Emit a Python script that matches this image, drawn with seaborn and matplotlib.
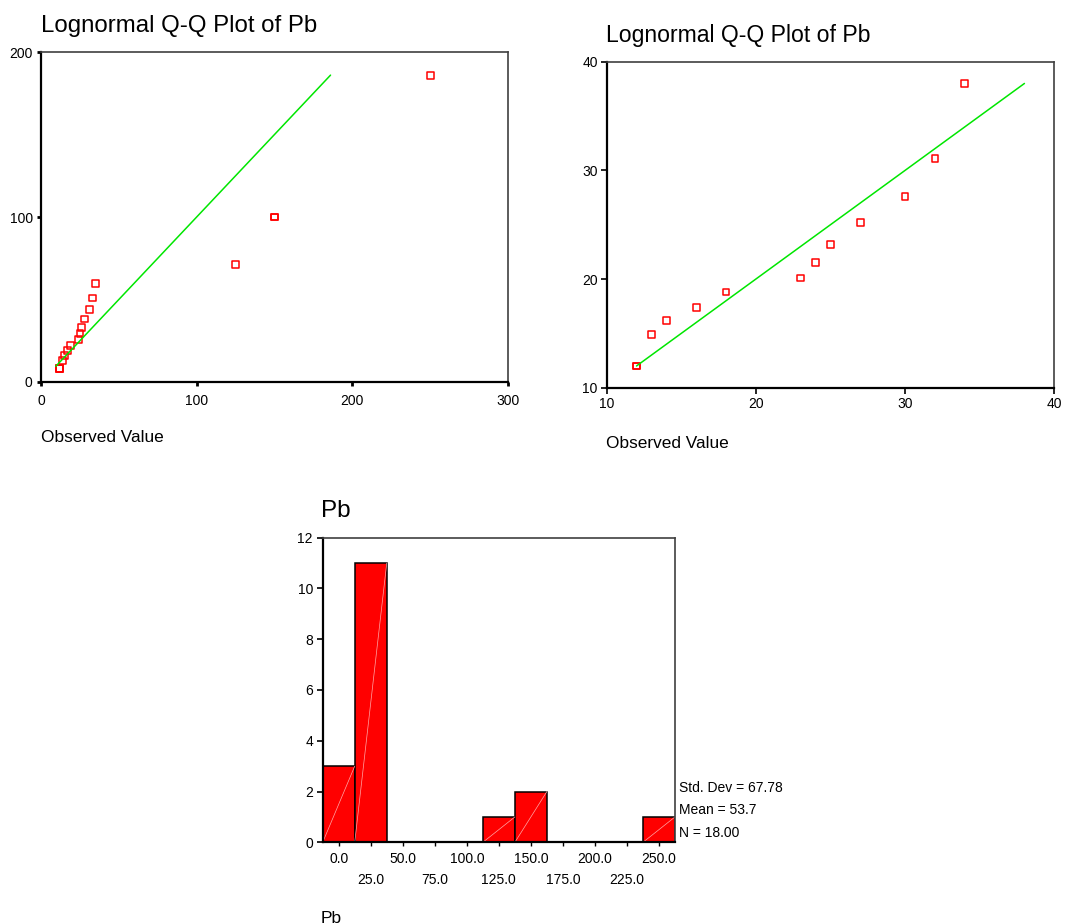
import numpy as np
import matplotlib
matplotlib.use("Agg")
import matplotlib.pyplot as plt
import seaborn as sns

# Pb values, all 18 samples (left Q-Q plot and histogram)
pb = [12, 12, 12, 14, 15, 17, 19, 24, 25, 26, 28, 31, 33, 35, 125, 150, 150, 250]
pb_expected = [8.1, 8.1, 8.1, 13.2, 16.2, 19.0, 22.0, 25.9, 29.5, 33.2, 38.2,
               44.1, 50.9, 59.6, 71.3, 100, 100, 186]
left_line = [9.5, 186]

# Pb values without the high samples (right Q-Q plot)
pb_low = [12, 12, 13, 14, 16, 18, 23, 24, 25, 27, 30, 32, 34]
pb_low_expected = [12.0, 12.0, 14.9, 16.2, 17.4, 18.8, 20.1, 21.5, 23.2, 25.2,
                   27.6, 31.1, 38.0]
right_line = [12, 38]

hist_bins = np.arange(-12.5, 275, 25)
hist_ticks = np.arange(0, 275, 25)
stats_lines = ["Std. Dev = 67.78", "Mean = 53.7", "N = 18.00"]

TITLE = "Lognormal Q-Q Plot of Pb"

sns.set_style("white")
plt.rcParams["font.family"] = ["Liberation Sans", "DejaVu Sans"]
plt.rcParams["text.color"] = "black"
plt.rcParams["axes.labelcolor"] = "black"
plt.rcParams["xtick.color"] = "black"
plt.rcParams["ytick.color"] = "black"

RED = "#ff0000"
GREEN = "#00e600"


def frame(ax):
    for s in ["top", "right"]:
        ax.spines[s].set_color("#404040")
        ax.spines[s].set_linewidth(1.2)
    for s in ["left", "bottom"]:
        ax.spines[s].set_color("black")
        ax.spines[s].set_linewidth(1.6)
    ax.tick_params(direction="out", length=4, width=1.2, colors="black",
                   labelsize=10, pad=4, left=True, bottom=True)


fig = plt.figure(figsize=(10.88, 9.24), dpi=100)

# === Left Q-Q plot ===
ax1 = fig.add_axes([0.0377, 0.5866, 0.4292, 0.3571])
sns.lineplot(x=left_line, y=left_line, ax=ax1, color=GREEN, lw=1.1)
sns.scatterplot(x=pb, y=pb_expected, ax=ax1, marker="s", s=24,
                facecolor="none", edgecolor=RED, linewidth=1.1)
ax1.set_xlim(0, 300)
ax1.set_ylim(0, 200)
ax1.set_xticks([0, 100, 200, 300])
ax1.set_yticks([0, 100, 200])
frame(ax1)
ax1.tick_params(length=3, width=2)
ax1.tick_params(axis="x", pad=6)
ax1.tick_params(axis="y", pad=3)
ax1.set_xlabel("")
ax1.set_ylabel("")
fig.text(41 / 1088, 1 - 32 / 924, TITLE, fontsize=17.3, va="baseline", ha="left")
fig.text(41 / 1088, 1 - 442 / 924, "Observed Value", fontsize=12.4, va="baseline", ha="left")

# === Right Q-Q plot ===
ax2 = fig.add_axes([0.5576, 0.5804, 0.4114, 0.3528])
sns.lineplot(x=right_line, y=right_line, ax=ax2, color=GREEN, lw=1.1)
sns.scatterplot(x=pb_low, y=pb_low_expected, ax=ax2, marker="s", s=24,
                facecolor="none", edgecolor=RED, linewidth=1.1)
ax2.set_xlim(10, 40)
ax2.set_ylim(10, 40)
ax2.set_xticks([10, 20, 30, 40])
ax2.set_yticks([10, 20, 30, 40])
frame(ax2)
ax2.tick_params(axis="x", pad=3)
ax2.tick_params(axis="y", pad=2.5)
ax2.set_xlabel("")
ax2.set_ylabel("")
fig.text(606 / 1088, 1 - 42 / 924, TITLE, fontsize=16.6, va="baseline", ha="left")
fig.text(606 / 1088, 1 - 448 / 924, "Observed Value", fontsize=12.4, va="baseline", ha="left")

# === Histogram ===
ax3 = fig.add_axes([0.2966, 0.0884, 0.3238, 0.3297])
sns.histplot(x=pb, bins=hist_bins, ax=ax3, color=RED, alpha=1,
             edgecolor="black", linewidth=1.1)
for p in ax3.patches:
    h = p.get_height()
    if h > 0:
        x0 = p.get_x()
        ax3.plot([x0, x0 + p.get_width()], [0, h], color="#ffa8a8", lw=0.5)
ax3.set_xlim(-12.5, 262.5)
ax3.set_ylim(0, 12)
ax3.set_yticks(range(0, 13, 2))
frame(ax3)
ax3.set_xticks(hist_ticks[::2])
ax3.set_xticklabels([f"{v:.1f}" for v in hist_ticks[::2]])
ax3.set_xticks(hist_ticks[1::2], minor=True)
ax3.set_xticklabels([f"{v:.1f}" for v in hist_ticks[1::2]], minor=True)
ax3.tick_params(axis="x", which="major", length=3, width=1, pad=4)
ax3.tick_params(axis="x", which="minor", length=3, width=1, pad=19,
                labelsize=10, bottom=True)
ax3.tick_params(axis="y", length=4, pad=3)
ax3.set_xlabel("")
ax3.set_ylabel("")
fig.text(321 / 1088, 1 - 517 / 924, "Pb", fontsize=17.5, va="baseline", ha="left")
fig.text(321 / 1088, 1 - 923 / 924, "Pb", fontsize=12.5, va="baseline", ha="left")
for i, line in enumerate(stats_lines):
    fig.text(679 / 1088, 1 - (788 + 22.3 * i) / 924, line, fontsize=10,
             va="center", ha="left")

fig.savefig("out.png", dpi=100)
plt.close(fig)
